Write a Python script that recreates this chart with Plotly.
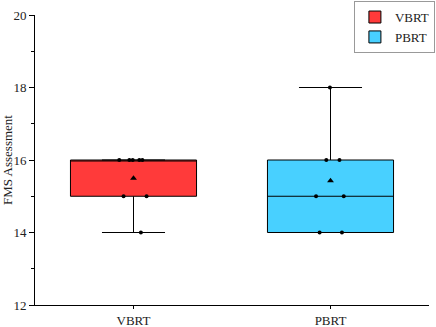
import numpy as np
import plotly.graph_objects as go

groups = ["VBRT", "PBRT"]
vbrt_values = [16, 16, 16, 16, 16, 15, 15, 14]
pbrt_values = [18, 16, 16, 15, 15, 14, 14]
fill_colors = ["#FF3A3A", "#48D0FF"]
y_ticks = [12, 14, 16, 18, 20]

series = [vbrt_values, pbrt_values]
FONT = "Liberation Serif, Times New Roman, serif"

fig = go.Figure()
for name, vals, col in zip(groups, series, fill_colors):
    fig.add_trace(go.Box(
        y=vals, x=[name] * len(vals), name=name,
        fillcolor=col, line=dict(color="black", width=1),
        boxpoints="all", jitter=0.35, pointpos=0,
        marker=dict(color="black", size=4, symbol="circle"),
        whiskerwidth=0.5, width=0.64, quartilemethod="exclusive",
        showlegend=True,
    ))
    fig.add_trace(go.Scatter(
        x=[name], y=[float(np.mean(vals))], mode="markers",
        marker=dict(symbol="triangle-up", color="black", size=6),
        showlegend=False, hoverinfo="skip",
    ))

fig.update_layout(
    width=436, height=327,
    margin=dict(l=35, r=7, t=15, b=22, autoexpand=False),
    plot_bgcolor="white", paper_bgcolor="white",
    font=dict(family=FONT, size=13, color="#222222"),
    legend=dict(x=1.015, y=1.048, xanchor="right", yanchor="top",
                bordercolor="#999999", borderwidth=1,
                font=dict(family=FONT, size=13, color="#222222"),
                tracegroupgap=0, itemwidth=30,
                ),
    boxmode="overlay",
)
fig.update_xaxes(
    type="category", categoryorder="array", categoryarray=groups,
    range=[-0.5, 1.5], showline=True, linecolor="black", linewidth=1,
    ticks="outside", ticklen=3, tickcolor="black", showgrid=False,
    zeroline=False, automargin=False, ticklabelstandoff=0,
)
fig.update_yaxes(
    range=[12, 20], tickvals=y_ticks, showline=True, linecolor="black",
    linewidth=1, ticks="outside", ticklen=5, tickcolor="black",
    showgrid=False, zeroline=False, automargin=False,
    minor=dict(dtick=1, ticks="outside", ticklen=3, tickcolor="black"),
    title=dict(text="FMS Assessment", standoff=3,
               font=dict(family=FONT, size=13, color="#222222")),
)
fig.write_html("out.html", config={"displayModeBar": False},
               post_script="document.body.style.margin='0';document.body.style.overflow='hidden';")
